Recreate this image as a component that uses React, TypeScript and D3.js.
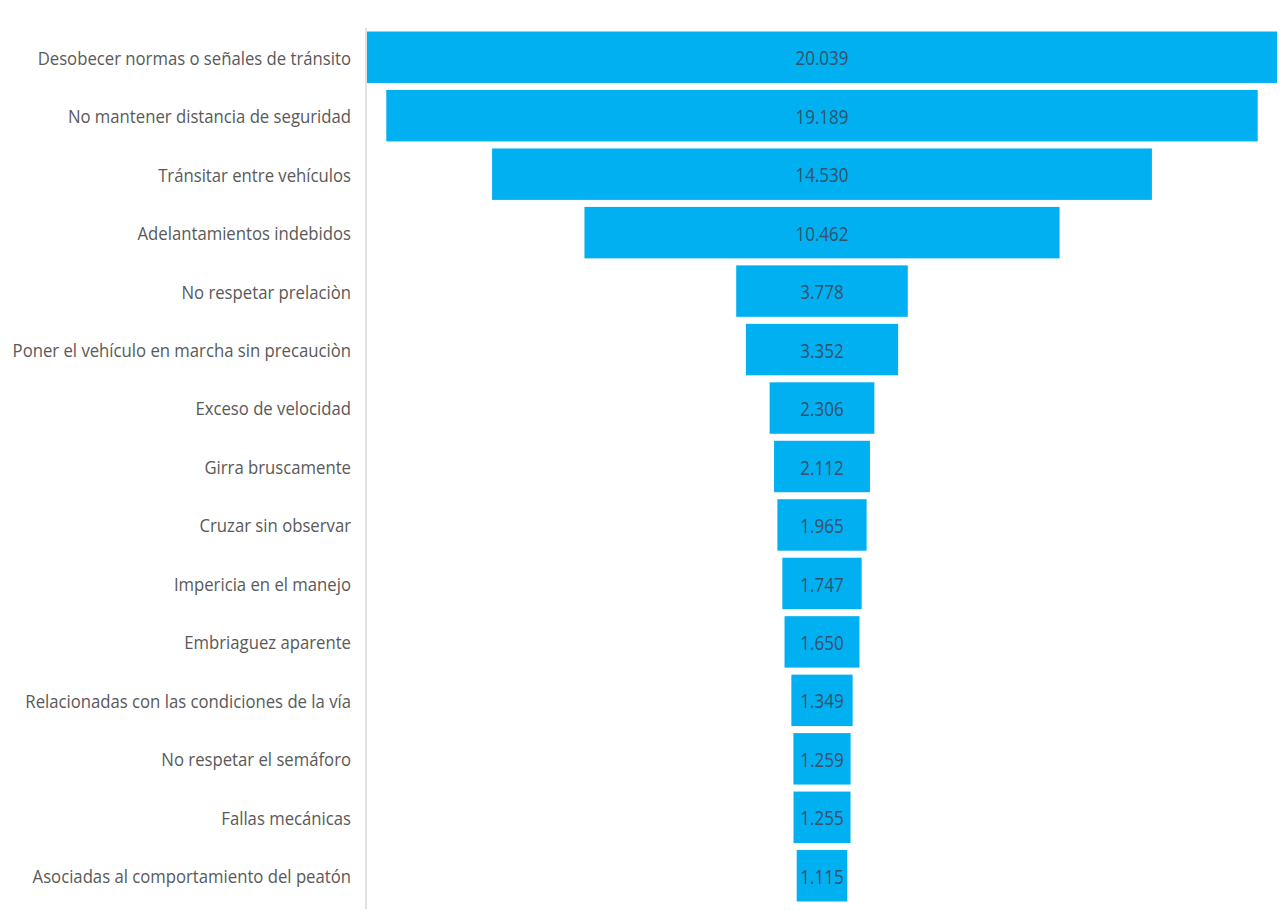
import { useEffect, useRef } from 'react';
import * as d3 from 'd3';

const categories = [
  'Desobecer normas o señales de tránsito',
  'No mantener distancia de seguridad',
  'Tránsitar entre vehículos',
  'Adelantamientos indebidos',
  'No respetar prelaciòn',
  'Poner el vehículo en marcha sin precauciòn',
  'Exceso de velocidad',
  'Girra bruscamente',
  'Cruzar sin observar',
  'Impericia en el manejo',
  'Embriaguez aparente',
  'Relacionadas con las condiciones de la vía',
  'No respetar el semáforo',
  'Fallas mecánicas',
  'Asociadas al comportamiento del peatón',
];

const values = [20039, 19189, 14530, 10462, 3778, 3352, 2306, 2112, 1965, 1747, 1650, 1349, 1259, 1255, 1115];

const locale = d3.formatLocale({ decimal: ',', thousands: '.', grouping: [3], currency: ['', ''] });
const fmt = locale.format(',d');

export default function App() {
  const svgRef = useRef<SVGSVGElement>(null);

  useEffect(() => {
    if (!svgRef.current) return;
    const width = 1288;
    const height = 911;
    const margin = { top: 28, right: 11, bottom: 6, left: 367 };
    const innerWidth = width - margin.left - margin.right;
    const innerHeight = height - margin.top - margin.bottom;

    const svg = d3.select(svgRef.current);
    svg.selectAll('*').remove();
    svg.attr('width', width).attr('height', height);

    const g = svg.append('g').attr('transform', `translate(${margin.left},${margin.top})`);

    const x = d3
      .scaleLinear()
      .domain([0, d3.max(values) ?? 1])
      .range([0, innerWidth]);

    const y = d3
      .scaleBand<string>()
      .domain(categories)
      .range([0, innerHeight])
      .paddingInner(0.12)
      .paddingOuter(0.06);

    const cx = innerWidth / 2;
    const data = categories.map((c, i) => ({ c, v: values[i] }));

    // axis line on the left
    g.append('line')
      .attr('x1', -1)
      .attr('x2', -1)
      .attr('y1', 0)
      .attr('y2', innerHeight + 4)
      .attr('stroke', '#d9d9d9')
      .attr('stroke-width', 1.5);

    g.selectAll('rect.bar')
      .data(data)
      .join('rect')
      .attr('class', 'bar')
      .attr('x', (d) => cx - x(d.v) / 2)
      .attr('y', (d) => y(d.c) ?? 0)
      .attr('width', (d) => x(d.v))
      .attr('height', y.bandwidth())
      .attr('fill', '#00b0f0');

    g.selectAll('text.val')
      .data(data)
      .join('text')
      .attr('class', 'val')
      .attr('transform', (d) => `translate(${cx},${(y(d.c) ?? 0) + y.bandwidth() / 2}) scale(0.85,1)`)
      .attr('text-anchor', 'middle')
      .attr('dominant-baseline', 'central')
      .attr('fill', '#34526e')
      .style('font-family', '"Open Sans", sans-serif')
      .style('font-size', '20px')
      .text((d) => fmt(d.v));

    g.selectAll('text.cat')
      .data(data)
      .join('text')
      .attr('class', 'cat')
      .attr('transform', (d) => `translate(-16,${(y(d.c) ?? 0) + y.bandwidth() / 2}) scale(0.88,1)`)
      .attr('text-anchor', 'end')
      .attr('dominant-baseline', 'central')
      .attr('fill', '#595959')
      .style('font-family', '"Open Sans", sans-serif')
      .style('font-size', '19px')
      .text((d) => d.c);
  }, []);

  return (
    <div style={{ position: 'absolute', left: 0, top: 0, background: '#fff' }}>
      <svg ref={svgRef} style={{ display: 'block' }} />
    </div>
  );
}
